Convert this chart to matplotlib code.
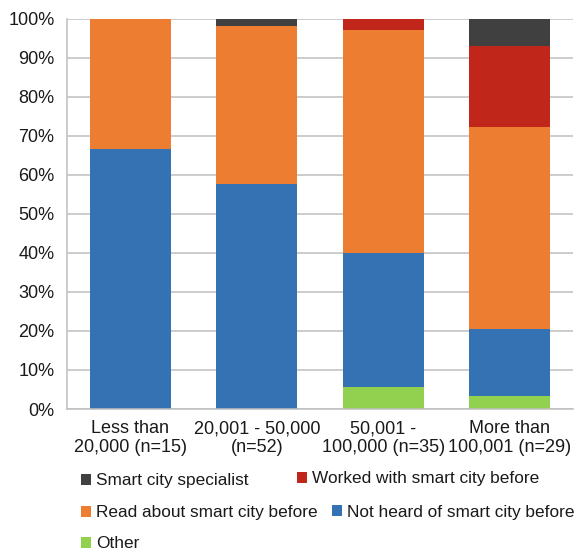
import matplotlib.pyplot as plt
from matplotlib.patches import Patch
import numpy as np

plt.rcParams['font.family'] = ['Liberation Sans', 'DejaVu Sans']
plt.rcParams['font.size'] = 13

# city population groups
groups = ["Less than\n20,000 (n=15)", "20,001 - 50,000\n(n=52)",
          "50,001 -\n100,000 (n=35)", "More than\n100,001 (n=29)"]

# share of respondents per group, in percent (stacked bottom to top)
other = [0.0, 0.0, 5.7, 3.4]
not_heard = [66.7, 57.7, 34.3, 17.2]
read_about = [33.3, 40.4, 57.1, 51.7]
worked_with = [0.0, 0.0, 2.9, 20.7]
specialist = [0.0, 1.9, 0.0, 6.9]

series = [
    ("Other", other, "#92D050"),
    ("Not heard of smart city before", not_heard, "#3572B4"),
    ("Read about smart city before", read_about, "#ED7D31"),
    ("Worked with smart city before", worked_with, "#C0271A"),
    ("Smart city specialist", specialist, "#404040"),
]

W, H = 581, 552
fig = plt.figure(figsize=(W / 100, H / 100), dpi=100)
ax = fig.add_axes([67 / W, 1 - 409 / H, (573 - 67) / W, (409 - 18.5) / H])

x = np.arange(len(groups))
bottom = np.zeros(len(groups))
handles = {}
for name, vals, color in series:
    vals = np.array(vals)
    ax.bar(x, vals, 0.64, bottom=bottom, color=color, zorder=2)
    handles[name] = Patch(facecolor=color)
    bottom += vals

ax.set_xlim(-0.5, 3.5)
ax.set_ylim(0, 100)
ax.set_yticks(np.arange(0, 101, 10))
ax.set_yticklabels([f"{v}%" for v in range(0, 101, 10)])
ax.set_xticks(x)
ax.set_xticklabels(groups, linespacing=1.15)
ax.tick_params(axis='both', length=0, colors='#1a1a1a', labelsize=13)
ax.tick_params(axis='y', pad=9)
ax.tick_params(axis='x', pad=8)
ax.grid(axis='y', color='#BFBFBF', linewidth=1.1, zorder=0)
for side in ['top', 'right']:
    ax.spines[side].set_visible(False)
for side in ['left', 'bottom']:
    ax.spines[side].set_color('#BFBFBF')
    ax.spines[side].set_linewidth(1.1)

# legend entries laid out in rows under the chart
legend_pos = [
    ("Smart city specialist", 81, 481),
    ("Worked with smart city before", 297, 479),
    ("Read about smart city before", 81, 513),
    ("Not heard of smart city before", 332, 512),
    ("Other", 81, 544),
]
for name, px, py in legend_pos:
    fig.legend(handles=[handles[name]], labels=[name], loc='center left',
               bbox_to_anchor=(px / W, 1 - py / H), frameon=False,
               handlelength=0.58, handleheight=0.58, handletextpad=0.28,
               borderpad=0, borderaxespad=0, fontsize=12.4,
               labelcolor='#1a1a1a')

fig.savefig("out.png", dpi=100)
